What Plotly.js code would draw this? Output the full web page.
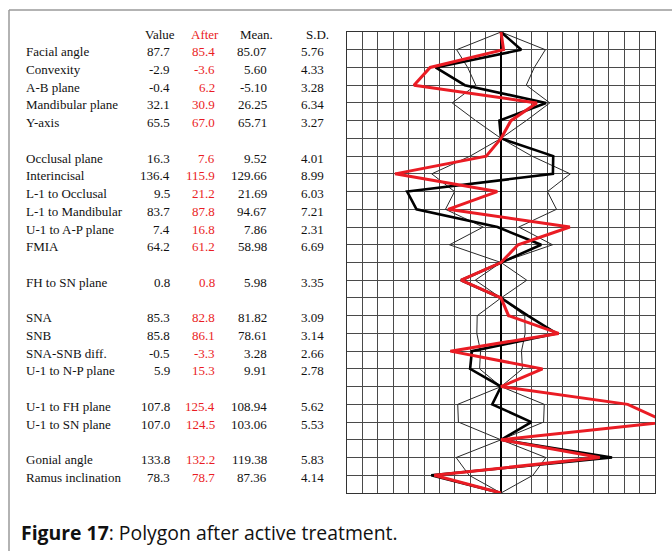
<!DOCTYPE html>
<html>
<head>
<meta charset="utf-8">
<script src="https://cdn.plot.ly/plotly-3.0.1.min.js"></script>
<style>html,body{margin:0;padding:0;background:#fff;}#chart{width:672px;height:551px;}</style>
</head>
<body>
<div id="chart"></div>
<script>
// ---- data ----
const labels = ['Facial angle','Convexity','A-B plane','Mandibular plane','Y-axis',
  'Occlusal plane','Interincisal','L-1 to Occlusal','L-1 to Mandibular','U-1 to A-P plane','FMIA',
  'FH to SN plane',
  'SNA','SNB','SNA-SNB diff.','U-1 to N-P plane',
  'U-1 to FH plane','U-1 to SN plane',
  'Gonial angle','Ramus inclination'];
const groups = [1,1,1,1,1, 2,2,2,2,2,2, 3, 4,4,4,4, 5,5, 6,6];
const valueBefore = [87.7,-2.9,-0.4,32.1,65.5, 16.3,136.4,9.5,83.7,7.4,64.2, 0.8, 85.3,85.8,-0.5,5.9, 107.8,107.0, 133.8,78.3];
const valueAfter  = [85.4,-3.6,6.2,30.9,67.0, 7.6,115.9,21.2,87.8,16.8,61.2, 0.8, 82.8,86.1,-3.3,15.3, 125.4,124.5, 132.2,78.7];
const meanVals    = [85.07,5.60,-5.10,26.25,65.71, 9.52,129.66,21.69,94.67,7.86,58.98, 5.98, 81.82,78.61,3.28,9.91, 108.94,103.06, 119.38,87.36];
const sdVals      = [5.76,4.33,3.28,6.34,3.27, 4.01,8.99,6.03,7.21,2.31,6.69, 3.35, 3.09,3.14,2.66,2.78, 5.62,5.53, 5.83,4.14];
const direction   = [1,1,-1,1,1, 1,1,1,1,1,1, 1, 1,1,1,1, 1,1, 1,1];
const headers = ['Value','After','Mean.','S.D.'];
const caption = '<b>Figure 17</b>: Polygon after active treatment.';

// ---- layout helpers ----
const W = 672, H = 551;
const M = {l: 347, r: 17, t: 32, b: 58};
const PW = W - M.l - M.r;
const PH = H - M.t - M.b;
const px = x => (x - M.l) / PW;          // pixel x -> paper x
const py = y => 1 - (y - M.t) / PH;      // pixel y -> paper y

const rowOf = labels.map((_, i) => i + 1 + (groups[i] - 1));
const nRows = rowOf[rowOf.length - 1] + 1;

function polyline(devFn) {
  const xs = [0], ys = [0];
  for (let r = 1; r < nRows; r++) {
    const i = rowOf.indexOf(r);
    xs.push(i >= 0 ? devFn(i) : 0);
    ys.push(r);
  }
  xs.push(0); ys.push(nRows);
  return {x: xs, y: ys};
}

const lo = polyline(i => -sdVals[i]);
const hi = polyline(i => sdVals[i]);
const bef = polyline(i => direction[i] * (valueBefore[i] - meanVals[i]));
const aft = polyline(i => direction[i] * (valueAfter[i] - meanVals[i]));

const RED = '#ea1c24';
const traces = [
  {x: lo.x, y: lo.y, mode: 'lines', line: {color: '#2a2a2a', width: 1}, hoverinfo: 'skip'},
  {x: hi.x, y: hi.y, mode: 'lines', line: {color: '#2a2a2a', width: 1}, hoverinfo: 'skip'},
  {x: bef.x, y: bef.y, mode: 'lines', line: {color: '#000', width: 2.6}, hoverinfo: 'skip'},
  {x: aft.x, y: aft.y, mode: 'lines', line: {color: RED, width: 3}, hoverinfo: 'skip'}
];

const serif = 'Liberation Serif, Times New Roman, serif';
const ann = [];
const colRight = [172, 216.5, 268.5, 325.5];
const headCenter = [159.5, 205, 256, 317.5];
headers.forEach((h, k) => ann.push({
  text: h, xref: 'paper', yref: 'y', x: px(headCenter[k]), y: 0, yshift: -2,
  xanchor: 'center', yanchor: 'middle', showarrow: false,
  font: {family: serif, size: 13, color: k === 1 ? RED : '#111'}
}));
labels.forEach((lab, i) => {
  const r = rowOf[i];
  const cells = [valueBefore[i].toFixed(1), valueAfter[i].toFixed(1), meanVals[i].toFixed(2), sdVals[i].toFixed(2)];
  ann.push({text: lab, xref: 'paper', yref: 'y', x: px(23.5), y: r, yshift: -2,
    xanchor: 'left', yanchor: 'middle', showarrow: false,
    font: {family: serif, size: 13, color: '#111'}});
  cells.forEach((c, k) => ann.push({text: c, xref: 'paper', yref: 'y', x: px(colRight[k]), y: r, yshift: -2,
    xanchor: 'right', yanchor: 'middle', showarrow: false,
    font: {family: serif, size: 13, color: k === 1 ? RED : '#111'}}));
});
ann.push({text: caption, xref: 'paper', yref: 'paper', x: px(19), y: py(532),
  xanchor: 'left', yanchor: 'middle', showarrow: false,
  font: {family: 'Open Sans, sans-serif', size: 19.4, color: '#111'}});

const shapes = [
  {type: 'line', xref: 'paper', yref: 'paper', x0: px(9), x1: px(672), y0: py(10), y1: py(10), line: {color: '#9a9a9a', width: 1.5}},
  {type: 'line', xref: 'paper', yref: 'paper', x0: px(9), x1: px(9), y0: py(10), y1: py(551), line: {color: '#9a9a9a', width: 1.5}}
];

const layout = {
  width: W, height: H, margin: M,
  paper_bgcolor: '#fff', plot_bgcolor: '#fff',
  showlegend: false,
  xaxis: {range: [-20, 20], dtick: 2, tick0: 0, showticklabels: false, ticks: '',
    showgrid: true, gridcolor: '#4a4a4a', gridwidth: 1,
    zeroline: true, zerolinecolor: '#000', zerolinewidth: 1.8,
    showline: true, mirror: true, linecolor: '#333', linewidth: 1, fixedrange: true},
  yaxis: {range: [nRows, 0], dtick: 1, tick0: 0, showticklabels: false, ticks: '',
    showgrid: true, gridcolor: '#4a4a4a', gridwidth: 1, zeroline: false,
    showline: true, mirror: true, linecolor: '#333', linewidth: 1, fixedrange: true},
  annotations: ann,
  shapes: shapes
};
Plotly.newPlot('chart', traces, layout, {displayModeBar: false, staticPlot: true});
</script>
</body>
</html>
